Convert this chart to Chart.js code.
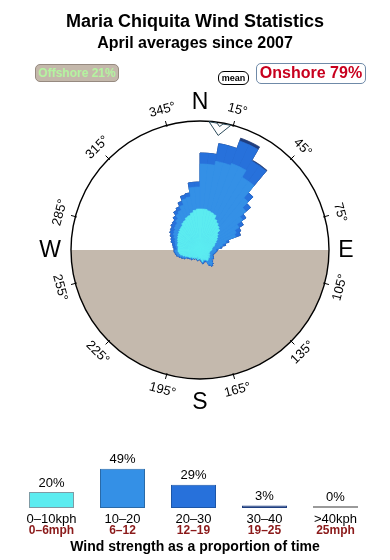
<!DOCTYPE html>
<html><head><meta charset="utf-8">
<script src="https://cdn.jsdelivr.net/npm/chart.js@4/dist/chart.umd.min.js"></script>
<style>
html,body{margin:0;padding:0;background:#fff;}
#wrap{position:relative;width:390px;height:560px;overflow:hidden;font-family:"Liberation Sans",Arial,sans-serif;}
.t{position:absolute;left:0;width:390px;text-align:center;font-weight:bold;color:#000;white-space:nowrap;}
#title{top:12px;font-size:18px;line-height:18px;}
#sub{top:34.7px;font-size:16px;line-height:16px;}
.badge{position:absolute;box-sizing:border-box;text-align:center;font-weight:bold;white-space:nowrap;}
#off{left:35px;top:64px;width:84px;height:18px;line-height:16px;font-size:12px;background:#c4b8ab;color:#b4f3a0;border:1px solid #968a80;border-radius:5px;}
#mean{left:218px;top:71px;width:31px;height:14px;line-height:12px;font-size:9px;background:#fff;border:1px solid #000;border-radius:6px;color:#000;}
#on{left:256px;top:63px;width:110px;height:20.5px;line-height:18.5px;font-size:16px;color:#c8001e;background:#fff;border:1px solid #6f8aa8;border-radius:5px;}
#foot{top:538.5px;font-size:14px;line-height:14px;}
canvas{position:absolute;left:0;}
#rose{top:0;}
#bars{top:430px;}
</style></head><body>
<div id="wrap">
<canvas id="rose" width="390" height="560"></canvas>
<canvas id="bars" width="390" height="130"></canvas>
<div class="t" id="title">Maria Chiquita Wind Statistics</div>
<div class="t" id="sub">April averages since 2007</div>
<div class="badge" id="off">Offshore 21%</div>
<div class="badge" id="mean">mean</div>
<div class="badge" id="on">Onshore 79%</div>
<div class="t" id="foot">Wind strength as a proportion of time</div>
</div>
<script>
// ---- data ----
const dirSectors = [0,5,10,15,20,25,30,35,40,45,50,55,60,65,70,75,80,85,
  90,95,100,105,110,115,120,125,130,135,140,145,150,155,160,165,170,175,
  180,185,190,195,200,205,210,215,220,225,230,235,240,245,250,255,260,265,
  270,275,280,285,290,295,300,305,310,315,320,325,330,335,340,345,350,355];
const kph0to10 = [4.1,4.1,4.0,3.9,3.8,3.4,3.2,3.0,2.8,2.4,2.2,2.0,1.8,1.6,1.5,1.3,1.2,1.2,
  1.1,1.0,0.9,1.0,0.9,1.1,1.0,1.2,1.1,1.2,1.3,1.2,1.0,1.1,0.9,1.2,1.0,0.8,
  0.9,0.7,1.0,0.6,0.9,0.8,1.0,0.9,1.1,1.0,1.2,1.3,1.4,1.6,1.8,2.0,2.1,2.2,
  2.2,2.2,2.3,2.3,2.4,2.5,2.6,2.7,2.8,2.9,3.0,3.2,3.3,3.5,3.6,3.8,4.0,4.1];
const kph10to20 = [4.5,4.5,5.0,5.1,5.4,5.8,5.2,5.4,4.0,3.6,3.0,2.5,2.2,2.2,1.2,1.0,0.8,0.4,
  0.5,0.5,0.5,0.3,0.4,0.3,0.5,0.2,0.5,0.6,0.6,0.5,0.2,0.0,0.3,0.1,0.1,0.1,
  0.0,0.1,0.0,0.1,0.0,0.0,0.0,0.0,0.1,0.1,0.1,0.1,0.3,0.3,0.3,0.3,0.3,0.3,
  0.1,0.2,0.2,0.3,0.3,0.4,0.5,0.5,0.6,0.6,0.8,1.0,1.1,1.3,1.7,1.6,2.3,2.2];
const kph20to30 = [1.1,1.1,1.8,1.8,2.4,2.4,1.9,1.9,0.7,0.6,0.4,0.5,0.5,0.5,0.3,0.3,0.2,0.2,
  0.1,0.1,0.1,0.1,0.1,0.1,0.1,0.1,0.1,0.1,0.1,0.1,0.1,0.1,0.1,0.1,0.1,0.1,
  0.1,0.1,0.1,0.1,0.1,0.1,0.1,0.1,0.1,0.1,0.1,0.1,0.1,0.1,0.1,0.1,0.1,0.1,
  0.3,0.3,0.3,0.4,0.4,0.4,0.4,0.4,0.4,0.4,0.4,0.4,0.4,0.4,0.4,0.4,0.5,0.5];
const kph30to40 = [0,0,0,0,0.3,0.3,0.1,0.1,0,0,0,0,0,0,0,0,0,0,
  0,0,0,0,0,0,0,0,0,0,0,0,0,0,0,0,0,0,
  0,0,0,0,0,0,0,0,0,0,0,0,0,0,0,0,0,0,
  0,0,0,0,0,0,0,0,0,0,0,0,0,0,0,0,0,0];
const kphOver40 = [0,0,0,0,0,0,0,0,0,0,0,0,0,0,0,0,0,0,
  0,0,0,0,0,0,0,0,0,0,0,0,0,0,0,0,0,0,
  0,0,0,0,0,0,0,0,0,0,0,0,0,0,0,0,0,0,
  0,0,0,0,0,0,0,0,0,0,0,0,0,0,0,0,0,0];
const roseMax = 12.9;
const meanDir = 9;
const compassTicks = [15,45,75,105,135,165,195,225,255,285,315,345];
const cardinals = ['N','E','S','W'];

const strengthKph = ['0\u201310kph','10\u201320','20\u201330','30\u201340','>40kph'];
const strengthMph = ['0\u20136mph','6\u201312','12\u201319','19\u201325','25mph'];
const strengthPct = [20,49,29,3,0];

const bandColors = ['#5CECF0','#3490E6','#2771DB','#1F3E80','#9a9a9a'];
const barBorders = ['#7f9aa4','#2a6aa8','#1d56a8','#1F3E80','#9a9a9a'];

Chart.defaults.font.family = "'Liberation Sans', Arial, sans-serif";

// cumulative stacking for the overlaid polar-area layers
const bands = [kph0to10, kph10to20, kph20to30, kph30to40, kphOver40];
const cumul = [];
bands.forEach((b, k) => {
  cumul.push(b.map((v, i) => (k ? cumul[k-1][i] : 0) + v));
});

const rosePlugin = {
  id: 'roseDeco',
  beforeDatasetsDraw(chart) {
    const s = chart.scales.r, ctx = chart.ctx;
    const cx = s.xCenter, cy = s.yCenter, R = s.drawingArea;
    ctx.save();
    ctx.fillStyle = '#c4b9ad';
    ctx.beginPath(); ctx.moveTo(cx + R, cy); ctx.arc(cx, cy, R, 0, Math.PI); ctx.closePath(); ctx.fill();
    ctx.restore();
  },
  afterDatasetsDraw(chart) {
    const s = chart.scales.r, ctx = chart.ctx;
    const cx = s.xCenter, cy = s.yCenter, R = s.drawingArea;
    const P = (deg, r) => { const a = deg * Math.PI / 180; return [cx + r * Math.sin(a), cy - r * Math.cos(a)]; };
    ctx.save();
    ctx.strokeStyle = '#000'; ctx.lineWidth = 1.4;
    ctx.beginPath(); ctx.arc(cx, cy, R, 0, Math.PI * 2); ctx.stroke();
    ctx.lineWidth = 1;
    ctx.fillStyle = '#000';
    ctx.font = "13px 'Liberation Sans', Arial, sans-serif";
    ctx.textAlign = 'center'; ctx.textBaseline = 'middle';
    compassTicks.forEach(d => {
      const p1 = P(d, R - 1.5), p2 = P(d, R + 4.5);
      ctx.beginPath(); ctx.moveTo(p1[0], p1[1]); ctx.lineTo(p2[0], p2[1]); ctx.stroke();
      const q = P(d, R + 16);
      const rot = (d > 90 && d < 270) ? d - 180 : d;
      ctx.save(); ctx.translate(q[0], q[1]); ctx.rotate(rot * Math.PI / 180);
      ctx.fillText(d + '\u00b0', 0, 0); ctx.restore();
    });
    ctx.font = "23px 'Liberation Sans', Arial, sans-serif";
    const cardR = [R + 19, R + 17, R + 23, R + 21];
    cardinals.forEach((c, i) => { const q = P(i * 90, cardR[i]); ctx.fillText(c, q[0], q[1] + 1); });
    const a = meanDir * Math.PI / 180;
    const pt = (r, t) => [cx + r * Math.sin(a) + t * Math.cos(a), cy - r * Math.cos(a) + t * Math.sin(a)];
    const shape = [[R - 1, -11], [R - 1, -3], [R - 4, 0], [R - 1, 3], [R - 1, 11], [R - 13, 0]];
    ctx.beginPath();
    shape.forEach((s2, i) => { const p = pt(s2[0], s2[1]); i ? ctx.lineTo(p[0], p[1]) : ctx.moveTo(p[0], p[1]); });
    ctx.closePath();
    ctx.fillStyle = '#fff'; ctx.fill();
    ctx.strokeStyle = '#2a4a5a'; ctx.lineWidth = 1; ctx.stroke();
    ctx.restore();
  }
};

new Chart(document.getElementById('rose'), {
  type: 'polarArea',
  data: {
    labels: dirSectors.map(d => d + '\u00b0'),
    datasets: cumul.map((c, k) => ({ data: c, backgroundColor: bandColors[k], borderColor: bandColors[k], borderWidth: 0.7 }))
  },
  options: {
    responsive: false, animation: false,
    layout: { padding: { left: 71, right: 61, top: 121, bottom: 181 } },
    plugins: { legend: { display: false }, tooltip: { enabled: false } },
    scales: { r: { min: 0, max: roseMax, startAngle: 0,
      ticks: { display: false }, grid: { display: false },
      angleLines: { display: false }, pointLabels: { display: false } } }
  },
  plugins: [rosePlugin]
});

const barLabels = {
  id: 'barLabels',
  afterDatasetsDraw(chart) {
    const ctx = chart.ctx, meta = chart.getDatasetMeta(0), bottom = chart.chartArea.bottom;
    ctx.save();
    ctx.textAlign = 'center'; ctx.textBaseline = 'middle';
    meta.data.forEach((el, i) => {
      ctx.fillStyle = '#000';
      ctx.font = "13px 'Liberation Sans', Arial, sans-serif";
      ctx.fillText(strengthPct[i] + '%', el.x, el.y - 9);
      ctx.fillText(strengthKph[i], el.x, bottom + 11);
      ctx.fillStyle = '#8b1a1a';
      ctx.font = "bold 12px 'Liberation Sans', Arial, sans-serif";
      ctx.fillText(strengthMph[i], el.x, bottom + 22.5);
    });
    ctx.restore();
  }
};

new Chart(document.getElementById('bars'), {
  type: 'bar',
  data: { labels: strengthKph, datasets: [{ data: strengthPct, backgroundColor: bandColors, borderColor: barBorders,
    borderWidth: 1, borderSkipped: false, minBarLength: 2, categoryPercentage: 1, barPercentage: 0.634 }] },
  options: {
    responsive: false, animation: false,
    layout: { padding: { left: 16, right: 19, top: 38, bottom: 52 } },
    plugins: { legend: { display: false }, tooltip: { enabled: false } },
    scales: { x: { display: false }, y: { display: false, min: 0, max: 50 } }
  },
  plugins: [barLabels]
});
</script>
</body></html>
